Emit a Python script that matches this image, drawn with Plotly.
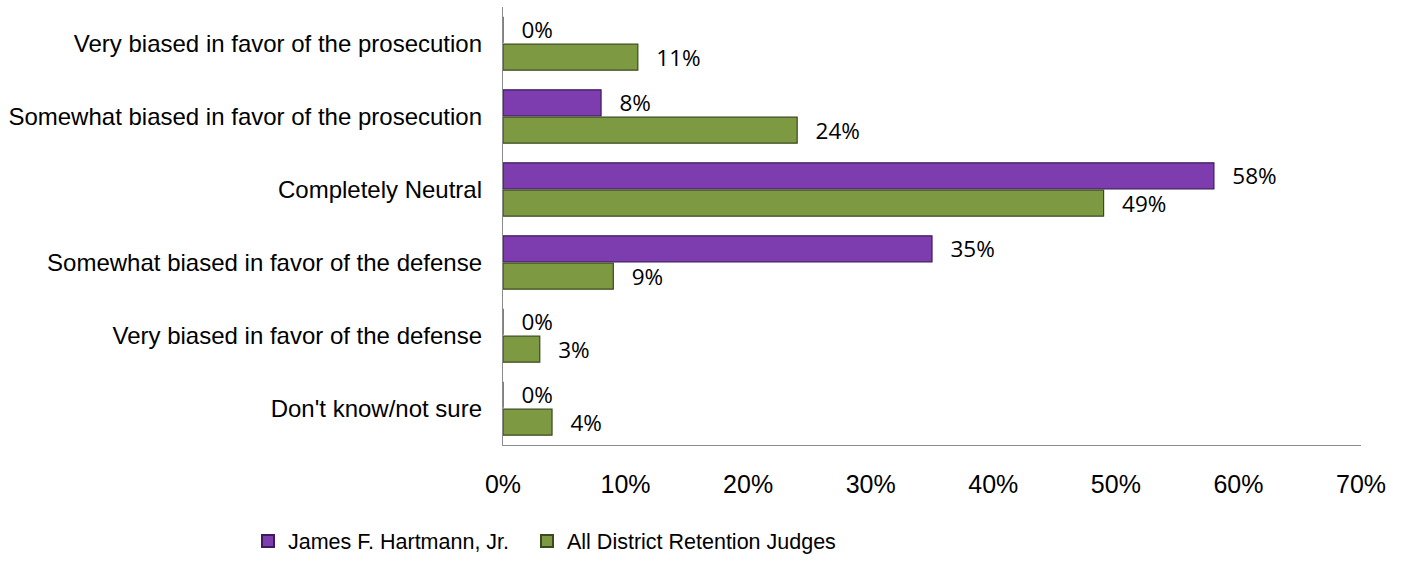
import plotly.graph_objects as go

categories = [
    "Very biased in favor of the prosecution",
    "Somewhat biased in favor of the prosecution",
    "Completely Neutral",
    "Somewhat biased in favor of the defense",
    "Very biased in favor of the defense",
    "Don't know/not sure",
]
hartmann = [0, 8, 58, 35, 0, 0]
all_judges = [11, 24, 49, 9, 3, 4]
series_names = ["James F. Hartmann, Jr.", "All District Retention Judges"]
tick_vals = [0, 10, 20, 30, 40, 50, 60, 70]
tick_text = [f"{v}%" for v in tick_vals]

label_font = dict(family="Open Sans", size=22.5, color="#000000")
pad = "\u00a0\u00a0\u2009"

fig = go.Figure()
fig.add_trace(go.Bar(
    y=categories, x=hartmann, orientation="h", name=series_names[0],
    marker=dict(color="#7D3DAE", line=dict(color="#3E1A5C", width=1.2)),
    text=[f"{pad}{v}%" for v in hartmann], textposition="outside",
    cliponaxis=False, constraintext="none", textfont=label_font,
    legend="legend",
))
fig.add_trace(go.Bar(
    y=categories, x=all_judges, orientation="h", name=series_names[1],
    marker=dict(color="#7D9A42", line=dict(color="#3B4A1E", width=1.2)),
    text=[f"{pad}{v}%" for v in all_judges], textposition="outside",
    cliponaxis=False, constraintext="none", textfont=label_font,
    legend="legend2",
))

legend_common = dict(orientation="h", xref="container", yref="container",
                     xanchor="left", y=1 - 541 / 573, yanchor="middle",
                     font=dict(family="Liberation Sans", size=21.5),
                     itemsizing="constant", bgcolor="rgba(0,0,0,0)")

fig.update_layout(
    width=1405, height=573,
    margin=dict(l=503, r=44, t=7, b=128, autoexpand=False),
    barmode="group", bargap=0.25, bargroupgap=0.05,
    plot_bgcolor="white", paper_bgcolor="white",
    font=dict(family="Liberation Sans", color="#000000"),
    showlegend=True,
    legend=dict(x=248 / 1405, **legend_common),
    legend2=dict(x=527 / 1405, **legend_common),
)
fig.update_xaxes(range=[0, 70], tickvals=tick_vals, ticktext=tick_text,
                 showgrid=False, zeroline=False, showline=True,
                 linecolor="#8C8C8C", linewidth=1.3, automargin=False,
                 tickfont=dict(family="Liberation Sans", size=25),
                 ticks="", ticklabelstandoff=17)
fig.update_yaxes(autorange="reversed", showgrid=False, showline=True,
                 linecolor="#8C8C8C", linewidth=1.3, ticks="", automargin=False,
                 tickfont=dict(family="Liberation Sans", size=24),
                 ticklabelstandoff=15)

fig.write_html("out.html", config={"displayModeBar": False},
               post_script="document.body.style.margin='0';document.body.style.padding='0';")
